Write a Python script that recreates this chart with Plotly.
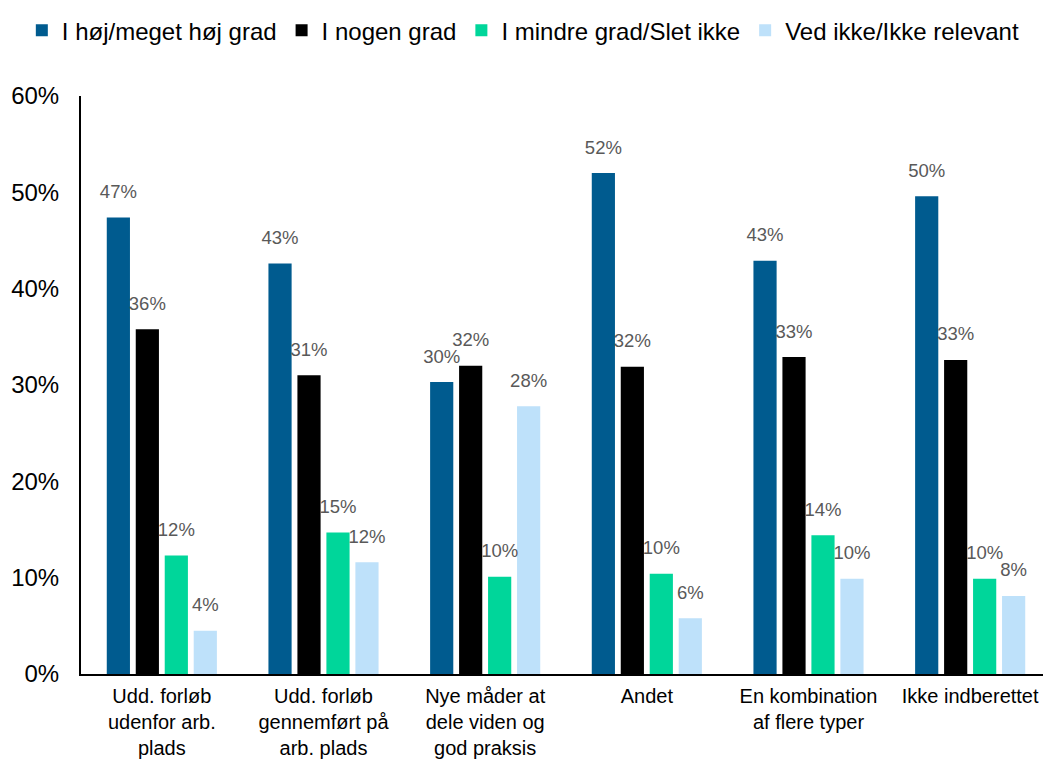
import plotly.graph_objects as go

categories = [
    "Udd. forløb<br>udenfor arb.<br>plads",
    "Udd. forløb<br>gennemført på<br>arb. plads",
    "Nye måder at<br>dele viden og<br>god praksis",
    "Andet",
    "En kombination<br>af flere typer",
    "Ikke indberettet",
]
series_names = [
    "I høj/meget høj grad",
    "I nogen grad",
    "I mindre grad/Slet ikke",
    "Ved ikke/Ikke relevant",
]
hoej = [0.474, 0.426, 0.303, 0.520, 0.429, 0.496]
nogen = [0.358, 0.310, 0.320, 0.319, 0.329, 0.326]
mindre = [0.123, 0.147, 0.101, 0.104, 0.144, 0.099]
vedikke = [0.045, 0.116, 0.278, 0.058, 0.099, 0.081]
series_values = [hoej, nogen, mindre, vedikke]
colors = ["#005B8F", "#000000", "#00D69A", "#BEE1FA"]

FONT = "Liberation Sans, Arial, sans-serif"
LABEL_PAD = 0.013  # vertical padding between bar top and its label (data units)

fig = go.Figure()
for i, (name, vals, col) in enumerate(zip(series_names, series_values, colors)):
    fig.add_trace(go.Bar(
        x=categories, y=vals, name=name, marker_color=col,
        marker_line_width=0, offsetgroup=str(i), hoverinfo="skip",
    ))
for i, vals in enumerate(series_values):
    fig.add_trace(go.Bar(
        x=categories, y=[LABEL_PAD] * len(vals), base=vals,
        offsetgroup=str(i), marker_color="rgba(0,0,0,0)", marker_line_width=0,
        text=[f"{round(v * 100):d}%" for v in vals],
        textposition="outside", cliponaxis=False, constraintext="none",
        textfont=dict(family=FONT, size=18.5, color="#595959"),
        showlegend=False, hoverinfo="skip",
    ))

# The page body has an 8px default margin, so the figure is 8px smaller
fig.update_layout(
    width=1043, height=752,
    margin=dict(l=73, r=0, t=88, b=86),
    paper_bgcolor="white", plot_bgcolor="white",
    barmode="group", bargap=0.283, bargroupgap=0.2,
    font=dict(family=FONT, color="#000000"),
    legend=dict(
        orientation="h", x=-0.061, xanchor="left", y=1.152, yanchor="top",
        font=dict(family=FONT, size=24, color="#000000"),
        itemclick=False,
    ),
    showlegend=True,
)
fig.update_yaxes(
    range=[0, 0.6], dtick=0.1, tickformat=".0%",
    showgrid=False, zeroline=False, automargin=False,
    showline=True, linecolor="#000000", linewidth=2,
    ticks="", ticklabelstandoff=15,
    tickfont=dict(family=FONT, size=24, color="#000000"),
)
fig.update_xaxes(
    showgrid=False, showline=True, linecolor="#000000", linewidth=2,
    automargin=False,
    ticks="", ticklabelstandoff=3,
    tickfont=dict(family=FONT, size=20, color="#000000"),
)

fig.write_html("out.html")
